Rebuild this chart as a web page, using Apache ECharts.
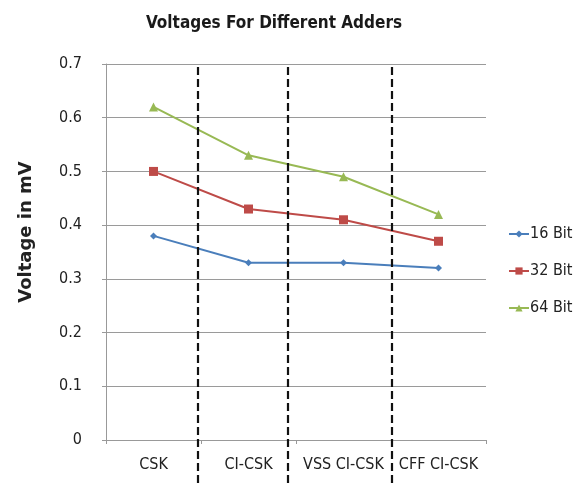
<!DOCTYPE html>
<html><head><meta charset="utf-8">
<script src="https://cdn.jsdelivr.net/npm/echarts@6/dist/echarts.min.js"></script>
<style>html,body{margin:0;padding:0;background:#fff}#c{width:586px;height:486px}</style>
</head><body><div id="c"></div>
<script>
const categories = ['CSK', 'CI-CSK', 'VSS CI-CSK', 'CFF CI-CSK'];
const bit16 = [0.38, 0.33, 0.33, 0.32];
const bit32 = [0.50, 0.43, 0.41, 0.37];
const bit64 = [0.62, 0.53, 0.49, 0.42];
const yTicks = { min: 0, max: 0.7, interval: 0.1 };
const dividerPositions = [0.97, 1.905, 3.01];

const FONT = "'Liberation Sans Narrow', 'DejaVu Sans Condensed', 'Liberation Sans', Arial, sans-serif";
const chart = echarts.init(document.getElementById('c'));
chart.setOption({
  animation: false,
  backgroundColor: '#fff',
  title: {
    text: 'Voltages For Different Adders', left: 269, top: 10, textAlign: 'center',
    textStyle: { fontFamily: FONT, fontWeight: 'bold', fontSize: 17, color: '#1a1a1a' }
  },
  legend: {
    data: ['16 Bit', '32 Bit', '64 Bit'],
    orient: 'vertical', left: 503, top: 221, itemGap: 21, itemWidth: 20, itemHeight: 9,
    textStyle: { fontFamily: FONT, fontSize: 16, color: '#222', padding: [0, 0, 0, -4] }
  },
  grid: [
    { left: 106, right: 100, top: 64, bottom: 46 },
    { left: 106, right: 100, top: 64, bottom: 3 }
  ],
  xAxis: [
    {
      type: 'category', data: categories, gridIndex: 0,
      axisLine: { lineStyle: { color: '#999' } },
      axisTick: { show: true, length: 4, lineStyle: { color: '#999' } },
      axisLabel: { interval: 0, fontFamily: FONT, fontSize: 16, color: '#222', margin: 17 }
    },
    { type: 'value', gridIndex: 1, min: 0, max: 4, show: false }
  ],
  yAxis: [
    {
      type: 'value', gridIndex: 0, min: yTicks.min, max: yTicks.max, interval: yTicks.interval,
      name: 'Voltage in mV', nameLocation: 'middle', nameGap: 71, nameRotate: 90,
      nameTextStyle: { fontFamily: "'DejaVu Sans', 'Liberation Sans', Arial, sans-serif", fontWeight: 'bold', fontSize: 18, color: '#222',
        padding: [0, 0, 0, 40] },
      axisLine: { show: true, lineStyle: { color: '#999' } },
      axisTick: { show: true, length: 4, lineStyle: { color: '#999' } },
      splitLine: { lineStyle: { color: '#9a9a9a', width: 1 } },
      axisLabel: { fontFamily: FONT, fontSize: 16, color: '#222', margin: 24,
        formatter: v => String(Math.round(v * 10) / 10) }
    },
    { type: 'value', gridIndex: 1, min: 0, max: 1, show: false }
  ],
  series: [
    { name: '16 Bit', type: 'line', data: bit16, color: '#4a7ebb', symbol: 'diamond', symbolSize: 7,
      lineStyle: { width: 2 } },
    { name: '32 Bit', type: 'line', data: bit32, color: '#be4b48', symbol: 'rect', symbolSize: 9,
      lineStyle: { width: 2 } },
    { name: '64 Bit', type: 'line', data: bit64, color: '#98b954', symbol: 'triangle', symbolSize: 9,
      lineStyle: { width: 2 } },
    { name: 'dividers', type: 'line', xAxisIndex: 1, yAxisIndex: 1, data: [], silent: true,
      markLine: {
        silent: true, symbol: ['none', 'none'], label: { show: false },
        lineStyle: { color: '#111', type: [8, 4], width: 2.2 },
        data: dividerPositions.map(x => ({ xAxis: x }))
      } }
  ]
});
</script></body></html>
